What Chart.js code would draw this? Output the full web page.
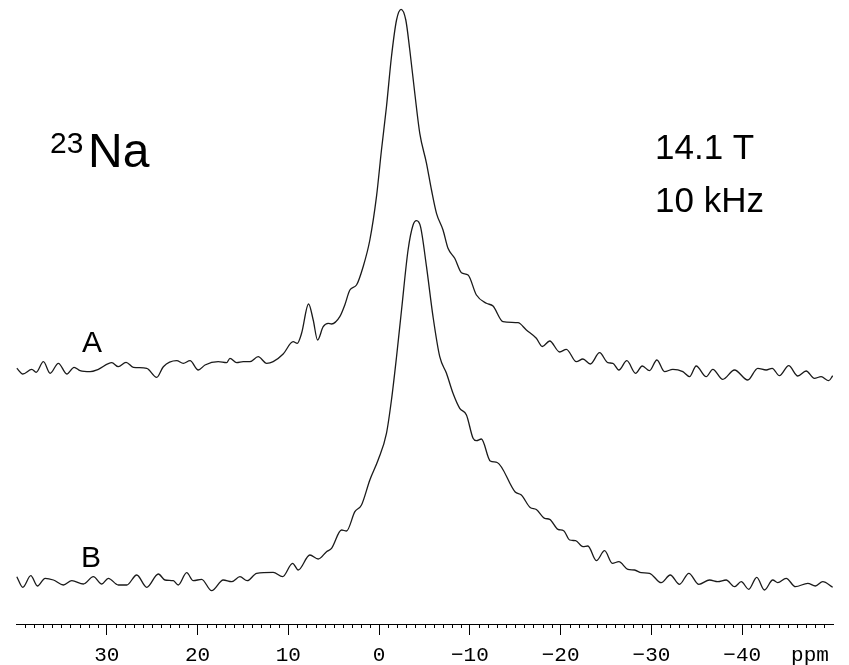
<!DOCTYPE html>
<html>
<head>
<meta charset="utf-8">
<script src="https://cdn.jsdelivr.net/npm/chart.js@4.4.0/dist/chart.umd.min.js"></script>
<style>
  html, body { margin: 0; padding: 0; background: #fff; overflow: hidden; }
  canvas { display: block; }
</style>
</head>
<body>
<canvas id="spectrum" width="849" height="665"></canvas>
<script>
const ppmA = [39.91, 39.25, 38.26, 37.78, 36.98, 36.24, 35.33, 34.40, 33.60, 32.94, 31.84, 30.93, 29.45, 28.73, 27.88, 27.07, 25.60, 24.50, 23.77, 22.30, 21.57, 20.83, 19.92, 19.18, 17.72, 16.80, 16.43, 15.69, 14.97, 14.23, 13.32, 12.39, 11.67, 10.57, 9.47, 9.02, 8.54, 7.77, 7.26, 6.78, 6.16, 5.61, 5.24, 4.33, 3.78, 3.22, 2.49, 1.76, 1.02, 0.29, -0.26, -0.81, -1.36, -1.92, -2.42, -2.94, -3.38, -3.93, -4.48, -5.22, -5.77, -6.32, -7.04, -7.59, -8.33, -9.07, -9.80, -10.72, -11.82, -12.55, -13.65, -15.30, -16.22, -17.32, -17.98, -18.79, -19.89, -20.63, -21.73, -22.45, -23.27, -24.29, -25.20, -25.75, -26.41, -27.29, -28.25, -28.99, -29.79, -30.60, -31.44, -32.36, -33.46, -34.20, -34.93, -36.03, -36.76, -37.86, -39.15, -40.61, -41.71, -42.64, -43.30, -44.10, -45.12, -46.12, -47.04, -47.95, -48.69, -49.53, -49.97];
const intA = [3.7, -2, 2.7, -0.3, 10.3, -1.3, 8.7, -2, 4.7, 1.3, 0.3, 2.7, 9.3, 5.3, 9.7, 4.7, 3.7, -5.3, 5.3, 11.3, 8.7, 11.3, 2, 7, 10.3, 9.3, 13.7, 9.3, 10.3, 10.3, 15.3, 8.7, 10.3, 18, 30.3, 28.7, 38.7, 68, 52, 32, 45.3, 48.7, 48, 55.3, 67, 82, 87, 105.3, 132, 175.3, 222, 265.3, 315.3, 352, 362.7, 352, 322, 278.7, 238.7, 208.7, 182, 158.7, 142, 123.7, 113.7, 99.3, 97, 77, 68.7, 66, 50.3, 49.3, 42, 33.7, 25.5, 31, 20, 22.7, 10.3, 13, 8, 19.3, 9.3, 8.7, 2, 11.3, -1.3, 6, 1.3, 12, 0.3, 2.7, 0.3, -4.7, 6, -4.7, 2.7, -7.3, 2, -8, 3.7, 2, 3.7, -3.7, 6.3, -4, 1, -6.3, -4.7, -8.7, -3.7];

// trace B
const ppmB = [39.91, 39.25, 38.37, 37.64, 36.79, 35.88, 34.78, 33.85, 32.58, 31.48, 30.55, 29.83, 28.73, 27.80, 26.70, 25.60, 24.32, 23.59, 22.67, 22.12, 21.20, 20.47, 19.55, 18.45, 17.17, 16.24, 15.33, 14.53, 13.49, 11.67, 10.63, 9.53, 8.91, 7.63, 6.71, 5.79, 5.24, 4.14, 3.59, 2.67, 1.94, 1.02, 0.11, -0.81, -1.36, -1.92, -2.47, -3.19, -3.74, -4.12, -4.56, -5.22, -5.94, -6.68, -7.42, -8.14, -8.88, -9.62, -10.35, -10.72, -11.27, -12.24, -13.01, -14.99, -15.67, -16.64, -17.32, -18.24, -18.79, -19.70, -20.33, -20.99, -21.65, -22.45, -23.00, -23.93, -24.84, -25.69, -26.41, -27.40, -28.14, -28.88, -29.79, -31.08, -32.07, -33.09, -34.12, -35.22, -36.40, -37.31, -38.23, -39.15, -39.89, -40.72, -41.60, -42.45, -43.36, -43.91, -44.84, -45.86, -47.22, -48.06, -48.87, -49.97];
const intB = [5.3, -5.3, 6.3, -4, 3.7, 2, -3, 1.3, -2, 5.3, -2, 3.7, -3, -3, 7, -5.3, 8, 2, 1.3, -3, 9.3, 1.3, 2.7, -8.7, 2, 0.3, 5.3, 1.3, 8.7, 9.7, 5.3, 18.7, 12, 27, 23, 30.3, 33.7, 52, 51, 70.3, 77, 102, 122, 148.7, 182, 225.3, 272, 332, 357, 361.3, 355.3, 315.3, 265.3, 225.3, 208.7, 188.7, 173.7, 167, 143.7, 141.3, 143, 121, 119.5, 90, 87, 74.5, 72.5, 63.7, 62.7, 52.7, 51.3, 42, 41.3, 35.3, 36, 21.3, 31.3, 18.7, 20.3, 12.7, 12, 9.3, 8.7, -0.7, 7, -2.3, 8.7, -2.3, 2, 0.3, 2, -4.7, 0.3, -7.3, 4.7, -8, 2, -0.7, 3.7, -4.7, -1.3, -4, 0.3, -5.3];

const majorTicks = [30, 20, 10, 0, -10, -20, -30, -40];

// vertical stacking of the two traces
const offsetA = 252;
const offsetB = 42;

function toPoints(xs, ys, off) {
    return xs.map((x, i) => ({ x: x, y: ys[i] + off }));
}

const tickFont = { family: '"Liberation Mono", "Courier New", monospace', size: 21, lineHeight: 1 };
const tickLen = 11;
const tickPad = 10;   // chart.js reserves this twice below the labels

const decorations = {
    id: 'decorations',
    afterDraw(chart) {
        const ctx = chart.ctx;
        const xs = chart.scales.x;
        ctx.save();

        // minor ticks every 1 ppm
        ctx.strokeStyle = '#000';
        ctx.lineWidth = 1;
        ctx.beginPath();
        for (let v = 39; v >= -49; v--) {
            if (v % 10 === 0) continue;
            const px = Math.round(xs.getPixelForValue(v)) + 0.5;
            ctx.moveTo(px, xs.top);
            ctx.lineTo(px, xs.top + 4);
        }
        ctx.stroke();

        ctx.fillStyle = '#000';
        // unit label
        ctx.font = tickFont.size + 'px ' + tickFont.family;
        ctx.textAlign = 'center';
        ctx.textBaseline = 'middle';
        ctx.fillText('ppm', 810, xs.top + tickLen + tickPad + tickFont.size / 2);

        // annotations
        ctx.textAlign = 'left';
        ctx.textBaseline = 'alphabetic';
        ctx.font = '30px "Liberation Sans", Arial, sans-serif';
        ctx.fillText('23', 50, 153);
        ctx.font = '48px "Liberation Sans", Arial, sans-serif';
        ctx.fillText('Na', 88, 167);

        ctx.font = '35px "Liberation Sans", Arial, sans-serif';
        ctx.fillText('14.1 T', 655, 159);
        ctx.fillText('10 kHz', 655, 212);

        ctx.font = '30px "Liberation Sans", Arial, sans-serif';
        ctx.fillText('A', 82, 352);
        ctx.fillText('B', 81, 567);
        ctx.restore();
    }
};

new Chart(document.getElementById('spectrum'), {
    type: 'line',
    data: {
        datasets: [
            { label: 'A', data: toPoints(ppmA, intA, offsetA) },
            { label: 'B', data: toPoints(ppmB, intB, offsetB) }
        ]
    },
    options: {
        responsive: false,
        animation: false,
        devicePixelRatio: 1,
        layout: { padding: { left: 16, right: 16, top: 0, bottom: -11 } },
        elements: {
            point: { radius: 0 },
            line: { borderColor: '#1a1a1a', borderWidth: 1.3, cubicInterpolationMode: 'monotone', fill: false }
        },
        plugins: { legend: { display: false }, tooltip: { enabled: false } },
        scales: {
            x: {
                type: 'linear',
                reverse: true,
                min: -50,
                max: 40,
                afterBuildTicks: (scale) => {
                    scale.ticks = majorTicks.map(v => ({ value: v }));
                },
                ticks: {
                    autoSkip: false,
                    maxRotation: 0,
                    padding: tickPad,
                    color: '#000',
                    font: tickFont,
                    callback: (v) => (v < 0 ? '\u2212' + Math.abs(v) : String(v))
                },
                grid: { drawOnChartArea: false, drawTicks: true, tickLength: tickLen, color: '#000', lineWidth: 1 },
                border: { display: true, color: '#000', width: 1 }
            },
            y: { display: false, min: 0, max: 624 }
        }
    },
    plugins: [decorations]
});
</script>
</body>
</html>
